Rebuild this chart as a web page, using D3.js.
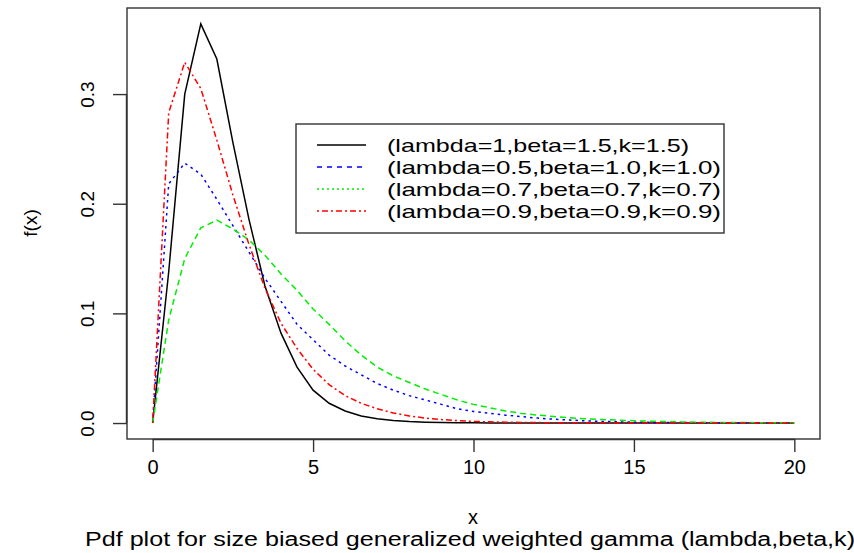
<!DOCTYPE html>
<html>
<head>
<meta charset="utf-8">
<script src="https://cdn.jsdelivr.net/npm/d3@7"></script>
<style>
  body { margin: 0; background: #ffffff; }
  text { font-family: "Liberation Sans", Arial, sans-serif; fill: #000; }
</style>
</head>
<body>
<div id="chart"></div>
<script>
// DATA (step 0.5)
var xValues = [0, 0.5, 1, 1.5, 2, 2.5, 3, 3.5, 4, 4.5, 5, 5.5, 6, 6.5, 7, 7.5, 8, 8.5, 9, 9.5,
  10, 10.5, 11, 11.5, 12, 12.5, 13, 13.5, 14, 14.5, 15, 15.5, 16, 16.5, 17, 17.5, 18, 18.5, 19, 19.5, 20];

var blackValues = [0, 0.138, 0.300, 0.364, 0.332, 0.256, 0.186, 0.125, 0.082, 0.051, 0.030, 0.018, 0.011, 0.0065, 0.004, 0.0024, 0.0014, 0.0008, 0.0005, 0.0003,
  0.0002, 0.0001, 0.0001, 0, 0, 0, 0, 0, 0, 0, 0, 0, 0, 0, 0, 0, 0, 0, 0, 0, 0];

var blueValues = [0, 0.218, 0.237, 0.227, 0.204, 0.180, 0.156, 0.132, 0.111, 0.090, 0.076, 0.062, 0.052, 0.044, 0.036, 0.030, 0.025, 0.021, 0.017, 0.013,
  0.0105, 0.0088, 0.0072, 0.0058, 0.0045, 0.0035, 0.0027, 0.002, 0.0015, 0.0011, 0.0008, 0.0006, 0.0005, 0.0004, 0.0003, 0.0002, 0.0002, 0.0001, 0.0001, 0.0001, 0.0001];

var greenValues = [0, 0.094, 0.150, 0.178, 0.185, 0.177, 0.167, 0.153, 0.136, 0.121, 0.104, 0.090, 0.075, 0.062, 0.051, 0.043, 0.037, 0.031, 0.026, 0.021,
  0.017, 0.014, 0.011, 0.0088, 0.0072, 0.006, 0.0048, 0.0038, 0.0032, 0.0027, 0.0021, 0.0017, 0.0013, 0.001, 0.0008, 0.0006, 0.0005, 0.0004, 0.0003, 0.0002, 0.0002];

var redValues = [0, 0.283, 0.329, 0.305, 0.258, 0.208, 0.163, 0.123, 0.091, 0.068, 0.049, 0.035, 0.025, 0.018, 0.013, 0.0092, 0.0065, 0.0045, 0.0032, 0.0022,
  0.0015, 0.0011, 0.0008, 0.0005, 0.0004, 0.0003, 0.0002, 0.0001, 0.0001, 0, 0, 0, 0, 0, 0, 0, 0, 0, 0, 0, 0];

var legendLabels = [
  "(lambda=1,beta=1.5,k=1.5)",
  "(lambda=0.5,beta=1.0,k=1.0)",
  "(lambda=0.7,beta=0.7,k=0.7)",
  "(lambda=0.9,beta=0.9,k=0.9)"
];

var xTicks = [0, 5, 10, 15, 20];
var yTicks = [0.0, 0.1, 0.2, 0.3];

// styles: curve dashes differ a bit from the legend ones in the original
var series = [
  { values: blackValues, color: "#000000", dash: null, legendDash: null },
  { values: blueValues, color: "#0000ff", dash: "2.5,4", legendDash: "5,5" },
  { values: greenValues, color: "#00ee00", dash: "6,4", legendDash: "2,3" },
  { values: redValues, color: "#ff0000", dash: "2,3,6,3", legendDash: "2,3,6,3" }
];

var width = 854,
  height = 553;

var svg = d3.select("#chart").append("svg")
  .attr("width", width)
  .attr("height", height);

var box = { left: 127, right: 820, top: 8, bottom: 439 };

// R style: 4% padding around data range
var xScale = d3.scaleLinear().domain([-0.8, 20.8]).range([box.left, box.right]);
var yScale = d3.scaleLinear().domain([-0.01456, 0.3785]).range([box.bottom, box.top]);

// plot frame
svg.append("rect")
  .attr("x", box.left)
  .attr("y", box.top)
  .attr("width", box.right - box.left)
  .attr("height", box.bottom - box.top)
  .attr("fill", "none")
  .attr("stroke", "#333")
  .attr("stroke-width", 1.4);

// X axis
var xAxis = svg.append("g")
  .attr("transform", "translate(0," + box.bottom + ")")
  .call(d3.axisBottom(xScale).tickValues(xTicks).tickSize(13).tickPadding(8).tickSizeOuter(0));
xAxis.select(".domain").attr("d", "M" + xScale(0) + ",0.5H" + xScale(20)).attr("stroke", "#333").attr("stroke-width", 1.4);
xAxis.selectAll(".tick line").attr("stroke", "#333").attr("stroke-width", 1.4);
xAxis.selectAll(".tick text")
  .style("font-family", "Liberation Sans, Arial, sans-serif")
  .style("font-size", "20px")
  .attr("fill", "#000");

// Y axis
var yAxis = svg.append("g")
  .attr("transform", "translate(" + box.left + ",0)")
  .call(d3.axisLeft(yScale).tickValues(yTicks).tickSize(14).tickFormat(d3.format(".1f")).tickSizeOuter(0));
yAxis.select(".domain").attr("d", "M-0.5," + yScale(0) + "V" + yScale(0.3)).attr("stroke", "#333").attr("stroke-width", 1.4);
yAxis.selectAll(".tick line").attr("stroke", "#333").attr("stroke-width", 1.4);
yAxis.selectAll(".tick text")
  .attr("x", null)
  .attr("dy", null)
  .attr("text-anchor", "middle")
  .attr("transform", "translate(-40,0) rotate(-90)")
  .attr("dy", "0.35em")
  .style("font-family", "Liberation Sans, Arial, sans-serif")
  .style("font-size", "19px")
  .attr("fill", "#000");

// curves
var line = d3.line()
  .x(function (d, i) { return xScale(xValues[i]); })
  .y(function (d) { return yScale(d); });

series.forEach(function (s) {
  svg.append("path")
    .datum(s.values)
    .attr("d", line)
    .attr("fill", "none")
    .attr("stroke", s.color)
    .attr("stroke-width", 1.5)
    .attr("stroke-dasharray", s.dash);
});

// legend
var legend = svg.append("g");
legend.append("rect")
  .attr("x", 296)
  .attr("y", 124)
  .attr("width", 428)
  .attr("height", 109)
  .attr("fill", "white")
  .attr("stroke", "#333")
  .attr("stroke-width", 1.4);

legendLabels.forEach(function (lab, i) {
  var yy = 145 + i * 22;
  legend.append("line")
    .attr("x1", 317).attr("x2", 366)
    .attr("y1", yy).attr("y2", yy)
    .attr("stroke", series[i].color)
    .attr("stroke-width", 1.5)
    .attr("stroke-dasharray", series[i].legendDash);
  legend.append("text")
    .attr("x", 387)
    .attr("y", yy)
    .attr("dy", "0.35em")
    .attr("textLength", i == 0 ? 302 : 334)
    .attr("lengthAdjust", "spacingAndGlyphs")
    .style("font-size", "19px")
    .text(lab);
});

// axis titles
svg.append("text")
  .attr("x", 473)
  .attr("y", 517)
  .attr("dy", "0.35em")
  .attr("text-anchor", "middle")
  .style("font-size", "20px")
  .text("x");

svg.append("text")
  .attr("transform", "translate(30,223) rotate(-90)")
  .attr("dy", "0.35em")
  .attr("text-anchor", "middle")
  .style("font-size", "19px")
  .text("f(x)");

svg.append("text")
  .attr("x", 470)
  .attr("y", 539)
  .attr("dy", "0.35em")
  .attr("text-anchor", "middle")
  .attr("textLength", 770)
  .attr("lengthAdjust", "spacingAndGlyphs")
  .style("font-size", "20px")
  .text("Pdf plot for size biased generalized weighted gamma (lambda,beta,k)");
</script>
</body>
</html>
